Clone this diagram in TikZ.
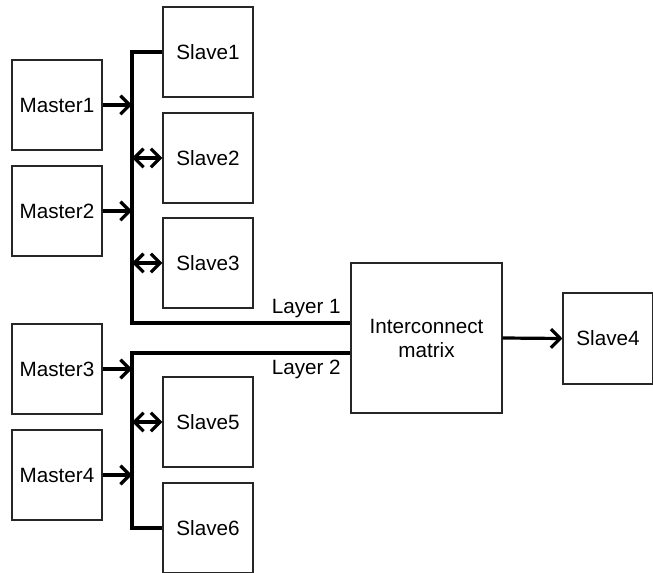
\documentclass[tikz,border=0pt]{standalone}
\usepackage{fontspec}
\setmainfont{Liberation Sans}
\usetikzlibrary{arrows.meta}
\begin{document}
\begin{tikzpicture}[x=0.75pt,y=-0.75pt,
  box/.style={draw=black!85,line width=0.8pt,inner sep=0pt,minimum width=67.5pt,minimum height=67.5pt,font=\fontsize{15.5}{18}\selectfont},
  bus/.style={line width=2.4pt},
  tip/.style={-{Straight Barb[length=7pt,width=14pt]}},
  dtip/.style={{Straight Barb[length=7pt,width=14pt]}-{Straight Barb[length=7pt,width=14pt]}},
  lbl/.style={anchor=base east,inner sep=0pt,font=\fontsize{15.5}{18}\selectfont}]
\useasboundingbox (0,0) rectangle (653,573);
\node[box] (m1) at (57,105) {Master1};
\node[box] (m2) at (57,211) {Master2};
\node[box] (m3) at (57,369) {Master3};
\node[box] (m4) at (57,475) {Master4};
\node[box] (s1) at (208,52) {Slave1};
\node[box] (s2) at (208,158) {Slave2};
\node[box] (s3) at (208,263) {Slave3};
\node[box] (s5) at (208,422) {Slave5};
\node[box] (s6) at (208,528) {Slave6};
\node[box,minimum width=113.25pt,minimum height=112.5pt,align=center] (im) at (426.5,338) {Interconnect\\matrix};
\node[box,minimum height=68.25pt] (s4) at (608,338.5) {Slave4};
\coordinate (l1) at (132,323);
\coordinate (l2) at (132,353);
\draw[bus] (s1.west) -| (l1) -- (l1 -| im.west);
\draw[bus] (l2 -| im.west) -- (l2) |- (s6.west);
\foreach \m in {m1,m2} \draw[bus,tip] (\m.east) -- (\m.east -| l1);
\foreach \m in {m3,m4} \draw[bus,tip] (\m.east) -- (\m.east -| l2);
\foreach \s in {s2,s3} \draw[bus,dtip] (\s.west -| l1) -- (\s.west);
\draw[bus,dtip] (s5.west -| l2) -- (s5.west);
\draw[bus,tip] (im.east) -- (s4.west);
\node[lbl] (t1) at (341,314) {Layer 1};
\node[lbl] (t2) at (341,374) {Layer 2};
\end{tikzpicture}
\end{document}
